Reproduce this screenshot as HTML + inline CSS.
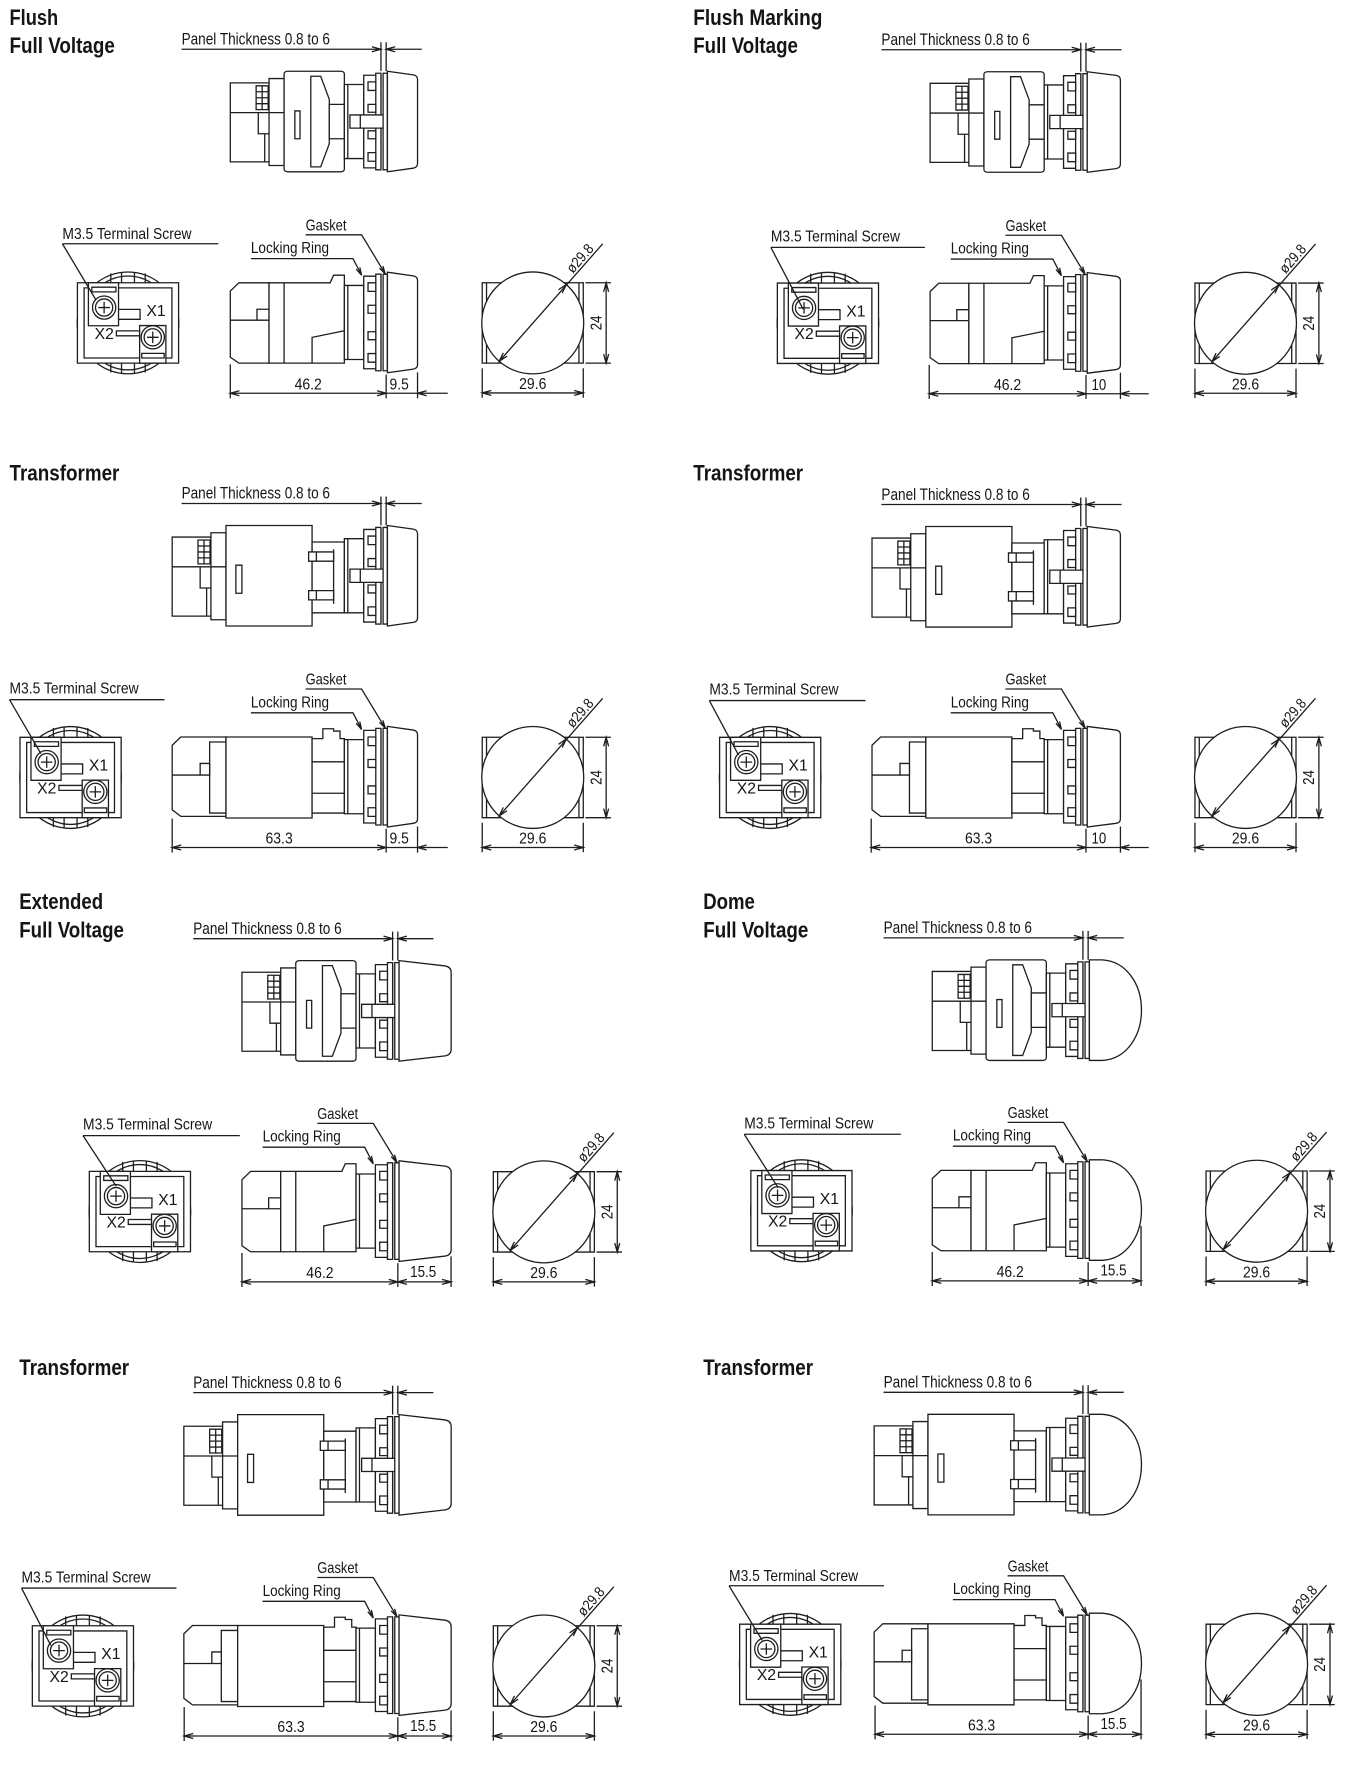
<!DOCTYPE html>
<html><head><meta charset="utf-8"><style>
html,body{margin:0;padding:0;background:#fff;}
svg{display:block}
path,rect,ellipse,circle,line{vector-effect:non-scaling-stroke;}
.n{fill:none}
text{stroke:none;fill:#151515;font-family:"Liberation Sans",sans-serif;}
.t{font-weight:bold;font-size:19.5px}
.p{font-size:15px}
.l{font-size:14px}
.d{font-size:13.5px}
.x{font-size:13.5px}
.r{font-size:13px}
</style></head><body>
<svg width="1348" height="1784" viewBox="0 0 1190 1575" preserveAspectRatio="none" xmlns="http://www.w3.org/2000/svg" fill="#fff" stroke="#1e1e1e" stroke-width="1.3">
<defs>
<g id="fvTop">
<path d="M-350,-117 H-260 V-130 H-225 V133 H-260 V122 H-350 Z"/>
<path class="n" d="M-350,-27 H-225 M-260,-117 V122 M-285,-27 V37 H-260 M-270,37 V122"/>
<rect x="-290" y="-108" width="28" height="72"/>
<path class="n" d="M-290,-90 H-262 M-290,-72 H-262 M-290,-54 H-262 M-276,-108 V-36"/>
<rect x="-225" y="-152" width="140" height="304" rx="8"/>
<path d="M-163,-137 H-140 L-120,-67 V67 L-140,137 H-163 Z"/>
<rect x="-120" y="-52" width="35" height="104"/>
<rect x="-200" y="-32" width="12" height="84"/>
</g>
<g id="trTop">
<path d="M-485,-117 H-395 V-130 H-360 V133 H-395 V122 H-485 Z"/>
<path class="n" d="M-485,-27 H-360 M-395,-117 V122 M-420,-27 V37 H-395 M-405,37 V122"/>
<rect x="-425" y="-108" width="28" height="72"/>
<path class="n" d="M-425,-90 H-397 M-425,-72 H-397 M-425,-54 H-397 M-411,-108 V-36"/>
<rect x="-360" y="-152" width="200" height="304"/>
<rect x="-337" y="-32" width="14" height="85"/>
<rect x="-160" y="-102" width="75" height="214"/>
<path class="n" d="M-110,-80 V85"/>
<rect x="-168" y="-72" width="58" height="28"/>
<rect x="-168" y="45" width="58" height="28"/>
<path class="n" d="M-150,-72 V-44 M-150,45 V73"/>
</g>
<g id="fvLow">
<path d="M-350,-95 L-330,-120 H-260 V123 H-330 L-350,105 Z"/>
<path class="n" d="M-350,-7 H-288"/>
<rect x="-288" y="-40" width="28" height="33"/>
<path d="M-260,-120 H-118 L-110,-143 H-85 V123 H-260 Z"/>
<path class="n" d="M-225,-120 V123 M-160,123 V45 L-85,25"/>
</g>
<g id="trLow">
<path d="M-485,-95 L-465,-120 H-360 V120 H-465 L-485,100 Z"/>
<rect x="-398" y="-105" width="38" height="215"/>
<path class="n" d="M-485,-5 H-420"/>
<rect x="-420" y="-40" width="22" height="35"/>
<rect x="-360" y="-120" width="200" height="245"/>
<path d="M-160,-115 H-135 V-145 H-110 V-138 H-95 V-115 H-85 V110 H-160 Z"/>
<path class="n" d="M-160,-45 H-85 M-160,50 H-85"/>
</g>
<g id="ring">
<rect x="-85" y="-112" width="45" height="224"/>
<path class="n" d="M-77,-112 V112"/>
<rect x="-40" y="-140" width="40" height="280"/>
<rect x="-12" y="-146" width="12" height="292"/>
<rect x="-30" y="-120" width="18" height="26"/>
<rect x="-30" y="-52" width="18" height="24"/>
<rect x="-30" y="28" width="18" height="24"/>
<rect x="-30" y="94" width="18" height="26"/>
</g>
<g id="shaft"><rect x="-72" y="-20" width="78" height="40"/><path class="n" d="M-48,-20 V20"/></g>
<g id="lensF"><rect x="5" y="-146" width="10" height="292"/><path d="M15,-152 L75,-141 Q85,-139 85,-127 V127 Q85,139 75,141 L15,152 Z"/></g>
<g id="lensM"><rect x="5" y="-146" width="10" height="292"/><path d="M15,-152 L82,-141 Q92,-139 92,-127 V127 Q92,139 82,141 L15,152 Z"/></g>
<g id="lensE"><rect x="5" y="-146" width="10" height="292"/><path d="M15,-152 L122,-136 Q136,-133 136,-116 V116 Q136,133 122,136 L15,152 Z"/></g>
<g id="lensD"><rect x="5" y="-146" width="10" height="292"/><path d="M15,-152 H45 C100,-148 136,-80 136,0 C136,80 100,148 45,152 H15 Z"/></g>
<g id="rear">
<ellipse rx="118" ry="154"/>
<ellipse class="n" rx="104" ry="142"/>
<path class="n" d="M-40,-150 V-122 M-15,-153 V-122 M15,-153 V-122 M40,-150 V-122 M-40,150 V122 M-15,153 V122 M15,153 V122 M40,150 V122"/>
<rect x="-117.5" y="-121.5" width="235" height="243"/>
<rect class="n" x="-102" y="-106" width="204" height="212"/>
<rect x="-92" y="-121.5" width="70" height="130"/>
<rect x="-84" y="-108" width="56" height="14"/>
<path class="n" d="M-22,-41 H28 V-11 H-22"/>
<rect x="27" y="8" width="61" height="113.5"/>
<rect x="32" y="92" width="52" height="14"/>
<path class="n" d="M27,24 H-27 V39 H27"/>
<ellipse cx="-55.5" cy="-46.5" rx="27" ry="35"/>
<ellipse class="n" cx="-55.5" cy="-46.5" rx="20" ry="26"/>
<path class="n" d="M-69,-46.5 H-42 M-55.5,-64 V-29"/>
<ellipse cx="57.5" cy="43.5" rx="27" ry="35"/>
<ellipse class="n" cx="57.5" cy="43.5" rx="20" ry="26"/>
<path class="n" d="M44,43.5 H71 M57.5,26 V61"/>
</g>
<g id="front">
<rect x="-44.6" y="-35.5" width="89.2" height="71"/>
<path class="n" d="M-40.8,-35.5 V35.5 M40.8,-35.5 V35.5"/>
<circle r="45"/>
<path class="n" d="M-29.6,33.9 L61.8,-69.9 M26,-26.4 L29.6,-33.9 L22.7,-29.3 M-22.7,29.3 L-29.6,33.9 L-26,26.4 M46.5,-35.5 H69 M46.5,35.5 H69 M64.8,-35.5 V35.5 M62.6,-27.5 L64.8,-35.5 L67,-27.5 M62.6,27.5 L64.8,35.5 L67,27.5 M-44.6,40 V66 M44.6,40 V66 M-44.6,61.8 H44.6 M-36.6,59.6 L-44.6,61.8 L-36.6,64 M36.6,59.6 L44.6,61.8 L36.6,64"/>
</g>
<path id="pt" class="n" d="M-176,-63.8 H0 M4.6,-63.8 H36 M0,-70 V-44.5 M4.6,-70 V-44.5 M-8,-66 L0,-63.8 L-8,-61.6 M12.6,-66 L4.6,-63.8 L12.6,-61.6"/>
<path id="ld" class="n" d="M-66.5,-77.4 H-17.1 L3.8,-42.9 M1.7,-49.8 L3.8,-42.9 L-1.3,-48 M-114.8,-56.4 H-24.7 L-17.1,-41.7 M-18.7,-48.7 L-17.1,-41.7 L-21.9,-47.1"/>
</defs>

<!-- ================= BLOCK A : Flush Full Voltage ================= -->
<text class="t" x="8.4" y="21.9" textLength="43" lengthAdjust="spacingAndGlyphs">Flush</text>
<text class="t" x="8.4" y="46.7" textLength="93" lengthAdjust="spacingAndGlyphs">Full Voltage</text>
<g transform="translate(336.3,107.3) scale(.38,.292)"><use href="#fvTop"/><use href="#ring"/><use href="#shaft"/><use href="#lensF"/></g>
<g transform="translate(336.3,107.3)"><use href="#pt"/><text class="p" x="-176" y="-68" textLength="131" lengthAdjust="spacingAndGlyphs">Panel Thickness 0.8 to 6</text></g>
<g transform="translate(336.3,284.7) scale(.38,.292)"><use href="#fvLow"/><use href="#ring"/><use href="#lensF"/></g>
<g transform="translate(336.3,284.7)"><use href="#ld"/>
<text class="l" x="-66.5" y="-81.2" textLength="36" lengthAdjust="spacingAndGlyphs">Gasket</text>
<text class="l" x="-114.8" y="-61.3" textLength="69" lengthAdjust="spacingAndGlyphs">Locking Ring</text>
<path class="n" d="M-133,37 V67 M4.6,46 V67 M32.3,44 V67 M-133,62.5 H59 M-125,60.3 L-133,62.5 L-125,64.7 M-3.4,60.3 L4.6,62.5 L-3.4,64.7 M40.3,60.3 L32.3,62.5 L40.3,64.7"/>
<text class="d" x="-76.2" y="59" textLength="24" lengthAdjust="spacingAndGlyphs">46.2</text><text class="d" x="7.6" y="59" textLength="17" lengthAdjust="spacingAndGlyphs">9.5</text></g>
<g transform="translate(113,285.1) scale(.38,.292)"><use href="#rear"/></g>
<g transform="translate(113,285.1)"><text class="x" x="16.2" y="-6" textLength="17" lengthAdjust="spacingAndGlyphs">X1</text><text class="x" x="-29.5" y="14" textLength="17" lengthAdjust="spacingAndGlyphs">X2</text></g>
<text class="l" x="55.1" y="210.8" textLength="114" lengthAdjust="spacingAndGlyphs">M3.5 Terminal Screw</text>
<path class="n" d="M55.1,215.2 H192.7 M55.1,215.2 L84.4,264.3"/>
<g transform="translate(470.3,285.1)"><use href="#front"/><text class="d" x="-12" y="58.5" textLength="24" lengthAdjust="spacingAndGlyphs">29.6</text><text class="d" transform="translate(60.5,0) rotate(-90)" x="-6.5" y="0" textLength="13" lengthAdjust="spacingAndGlyphs">24</text><text class="r" transform="translate(44.9,-54.1) rotate(-49)" x="-14.5" y="0" textLength="29" lengthAdjust="spacingAndGlyphs">ø29.8</text></g>

<!-- ================= BLOCK A' : Flush Marking ================= -->
<text class="t" x="612" y="21.9" textLength="114" lengthAdjust="spacingAndGlyphs">Flush Marking</text>
<text class="t" x="612" y="46.7" textLength="92.4" lengthAdjust="spacingAndGlyphs">Full Voltage</text>
<g transform="translate(954.1,107.7) scale(.38,.292)"><use href="#fvTop"/><use href="#ring"/><use href="#shaft"/><use href="#lensM"/></g>
<g transform="translate(954.1,107.7)"><use href="#pt"/><text class="p" x="-176" y="-68" textLength="131" lengthAdjust="spacingAndGlyphs">Panel Thickness 0.8 to 6</text></g>
<g transform="translate(954.1,285.1) scale(.38,.292)"><use href="#fvLow"/><use href="#ring"/><use href="#lensM"/></g>
<g transform="translate(954.1,285.1)"><use href="#ld"/>
<text class="l" x="-66.5" y="-81.2" textLength="36" lengthAdjust="spacingAndGlyphs">Gasket</text>
<text class="l" x="-114.8" y="-61.3" textLength="69" lengthAdjust="spacingAndGlyphs">Locking Ring</text>
<path class="n" d="M-133.8,37 V67 M4.6,46 V67 M35,44 V67 M-133.8,62.5 H60 M-125.8,60.3 L-133.8,62.5 L-125.8,64.7 M-3.4,60.3 L4.6,62.5 L-3.4,64.7 M43,60.3 L35,62.5 L43,64.7"/>
<text class="d" x="-76.6" y="59" textLength="24" lengthAdjust="spacingAndGlyphs">46.2</text><text class="d" x="9.5" y="59" textLength="13" lengthAdjust="spacingAndGlyphs">10</text></g>
<g transform="translate(730.9,285.4) scale(.38,.292)"><use href="#rear"/></g>
<g transform="translate(730.9,285.4)"><text class="x" x="16.2" y="-6" textLength="17" lengthAdjust="spacingAndGlyphs">X1</text><text class="x" x="-29.5" y="14" textLength="17" lengthAdjust="spacingAndGlyphs">X2</text></g>
<text class="l" x="680.5" y="213.2" textLength="114" lengthAdjust="spacingAndGlyphs">M3.5 Terminal Screw</text>
<path class="n" d="M680.5,218.4 H816.5 M680.5,218.4 L709,273"/>
<g transform="translate(1099.5,285.4)"><use href="#front"/><text class="d" x="-12" y="58.5" textLength="24" lengthAdjust="spacingAndGlyphs">29.6</text><text class="d" transform="translate(60.5,0) rotate(-90)" x="-6.5" y="0" textLength="13" lengthAdjust="spacingAndGlyphs">24</text><text class="r" transform="translate(44.9,-54.1) rotate(-49)" x="-14.5" y="0" textLength="29" lengthAdjust="spacingAndGlyphs">ø29.8</text></g>

<!-- ================= BLOCK B : Transformer (left) ================= -->
<text class="t" x="8.4" y="424.4" textLength="97" lengthAdjust="spacingAndGlyphs">Transformer</text>
<g transform="translate(336.3,508.3) scale(.38,.292)"><use href="#trTop"/><use href="#ring"/><use href="#shaft"/><use href="#lensF"/></g>
<g transform="translate(336.3,508.3)"><use href="#pt"/><text class="p" x="-176" y="-68" textLength="131" lengthAdjust="spacingAndGlyphs">Panel Thickness 0.8 to 6</text></g>
<g transform="translate(336.3,685.7) scale(.38,.292)"><use href="#trLow"/><use href="#ring"/><use href="#lensF"/></g>
<g transform="translate(336.3,685.7)"><use href="#ld"/>
<text class="l" x="-66.5" y="-81.2" textLength="36" lengthAdjust="spacingAndGlyphs">Gasket</text>
<text class="l" x="-114.8" y="-61.3" textLength="69" lengthAdjust="spacingAndGlyphs">Locking Ring</text>
<path class="n" d="M-184.3,37 V67 M4.6,46 V67 M32.3,44 V67 M-184.3,62.5 H59 M-176.3,60.3 L-184.3,62.5 L-176.3,64.7 M-3.4,60.3 L4.6,62.5 L-3.4,64.7 M40.3,60.3 L32.3,62.5 L40.3,64.7"/>
<text class="d" x="-101.9" y="59" textLength="24" lengthAdjust="spacingAndGlyphs">63.3</text><text class="d" x="7.6" y="59" textLength="17" lengthAdjust="spacingAndGlyphs">9.5</text></g>
<g transform="translate(62.3,686.4) scale(.38,.292)"><use href="#rear"/></g>
<g transform="translate(62.3,686.4)"><text class="x" x="16.2" y="-6" textLength="17" lengthAdjust="spacingAndGlyphs">X1</text><text class="x" x="-29.5" y="14" textLength="17" lengthAdjust="spacingAndGlyphs">X2</text></g>
<text class="l" x="8.4" y="612.1" textLength="114" lengthAdjust="spacingAndGlyphs">M3.5 Terminal Screw</text>
<path class="n" d="M8.4,617.7 H145.2 M8.4,617.7 L36.1,665.3"/>
<g transform="translate(470.3,686.4)"><use href="#front"/><text class="d" x="-12" y="58.5" textLength="24" lengthAdjust="spacingAndGlyphs">29.6</text><text class="d" transform="translate(60.5,0) rotate(-90)" x="-6.5" y="0" textLength="13" lengthAdjust="spacingAndGlyphs">24</text><text class="r" transform="translate(44.9,-54.1) rotate(-49)" x="-14.5" y="0" textLength="29" lengthAdjust="spacingAndGlyphs">ø29.8</text></g>

<!-- ================= BLOCK B' : Transformer (right) ================= -->
<text class="t" x="612" y="424.4" textLength="97" lengthAdjust="spacingAndGlyphs">Transformer</text>
<g transform="translate(954.1,509.2) scale(.38,.292)"><use href="#trTop"/><use href="#ring"/><use href="#shaft"/><use href="#lensM"/></g>
<g transform="translate(954.1,509.2)"><use href="#pt"/><text class="p" x="-176" y="-68" textLength="131" lengthAdjust="spacingAndGlyphs">Panel Thickness 0.8 to 6</text></g>
<g transform="translate(954.1,685.7) scale(.38,.292)"><use href="#trLow"/><use href="#ring"/><use href="#lensM"/></g>
<g transform="translate(954.1,685.7)"><use href="#ld"/>
<text class="l" x="-66.5" y="-81.2" textLength="36" lengthAdjust="spacingAndGlyphs">Gasket</text>
<text class="l" x="-114.8" y="-61.3" textLength="69" lengthAdjust="spacingAndGlyphs">Locking Ring</text>
<path class="n" d="M-185,37 V67 M4.6,46 V67 M35,44 V67 M-185,62.5 H60 M-177,60.3 L-185,62.5 L-177,64.7 M-3.4,60.3 L4.6,62.5 L-3.4,64.7 M43,60.3 L35,62.5 L43,64.7"/>
<text class="d" x="-102.2" y="59" textLength="24" lengthAdjust="spacingAndGlyphs">63.3</text><text class="d" x="9.5" y="59" textLength="13" lengthAdjust="spacingAndGlyphs">10</text></g>
<g transform="translate(679.9,686.4) scale(.38,.292)"><use href="#rear"/></g>
<g transform="translate(679.9,686.4)"><text class="x" x="16.2" y="-6" textLength="17" lengthAdjust="spacingAndGlyphs">X1</text><text class="x" x="-29.5" y="14" textLength="17" lengthAdjust="spacingAndGlyphs">X2</text></g>
<text class="l" x="626.2" y="613.3" textLength="114" lengthAdjust="spacingAndGlyphs">M3.5 Terminal Screw</text>
<path class="n" d="M626.2,618.5 H764.1 M626.2,618.5 L652,666.7"/>
<g transform="translate(1099.5,686.4)"><use href="#front"/><text class="d" x="-12" y="58.5" textLength="24" lengthAdjust="spacingAndGlyphs">29.6</text><text class="d" transform="translate(60.5,0) rotate(-90)" x="-6.5" y="0" textLength="13" lengthAdjust="spacingAndGlyphs">24</text><text class="r" transform="translate(44.9,-54.1) rotate(-49)" x="-14.5" y="0" textLength="29" lengthAdjust="spacingAndGlyphs">ø29.8</text></g>

<!-- ================= BLOCK C : Extended Full Voltage ================= -->
<text class="t" x="17" y="802.6" textLength="74" lengthAdjust="spacingAndGlyphs">Extended</text>
<text class="t" x="17" y="827.7" textLength="92.4" lengthAdjust="spacingAndGlyphs">Full Voltage</text>
<g transform="translate(346.6,892.5) scale(.38,.292)"><use href="#fvTop"/><use href="#ring"/><use href="#shaft"/><use href="#lensE"/></g>
<g transform="translate(346.6,892.5)"><use href="#pt"/><text class="p" x="-176" y="-68" textLength="131" lengthAdjust="spacingAndGlyphs">Panel Thickness 0.8 to 6</text></g>
<g transform="translate(346.6,1069.2) scale(.38,.292)"><use href="#fvLow"/><use href="#ring"/><use href="#lensE"/></g>
<g transform="translate(346.6,1069.2)"><use href="#ld"/>
<text class="l" x="-66.5" y="-81.2" textLength="36" lengthAdjust="spacingAndGlyphs">Gasket</text>
<text class="l" x="-114.8" y="-61.3" textLength="69" lengthAdjust="spacingAndGlyphs">Locking Ring</text>
<path class="n" d="M-133,37 V67 M4.6,46 V67 M51.6,40 V67 M-133,62.5 H51.6 M-125,60.3 L-133,62.5 L-125,64.7 M-3.4,60.3 L4.6,62.5 L-3.4,64.7 M12.6,60.3 L4.6,62.5 L12.6,64.7 M43.6,60.3 L51.6,62.5 L43.6,64.7"/>
<text class="d" x="-76.2" y="59" textLength="24" lengthAdjust="spacingAndGlyphs">46.2</text><text class="d" x="15.5" y="58" textLength="23" lengthAdjust="spacingAndGlyphs">15.5</text></g>
<g transform="translate(123.5,1069.6) scale(.38,.292)"><use href="#rear"/></g>
<g transform="translate(123.5,1069.6)"><text class="x" x="16.2" y="-6" textLength="17" lengthAdjust="spacingAndGlyphs">X1</text><text class="x" x="-29.5" y="14" textLength="17" lengthAdjust="spacingAndGlyphs">X2</text></g>
<text class="l" x="73.3" y="997.1" textLength="114" lengthAdjust="spacingAndGlyphs">M3.5 Terminal Screw</text>
<path class="n" d="M73.3,1002.6 H211.7 M73.3,1002.6 L102.6,1047.3"/>
<g transform="translate(480.1,1069.9)"><use href="#front"/><text class="d" x="-12" y="58.5" textLength="24" lengthAdjust="spacingAndGlyphs">29.6</text><text class="d" transform="translate(60.5,0) rotate(-90)" x="-6.5" y="0" textLength="13" lengthAdjust="spacingAndGlyphs">24</text><text class="r" transform="translate(44.9,-54.1) rotate(-49)" x="-14.5" y="0" textLength="29" lengthAdjust="spacingAndGlyphs">ø29.8</text></g>

<!-- ================= BLOCK C' : Dome Full Voltage ================= -->
<text class="t" x="620.8" y="802.6" textLength="45.6" lengthAdjust="spacingAndGlyphs">Dome</text>
<text class="t" x="620.8" y="827.7" textLength="92.8" lengthAdjust="spacingAndGlyphs">Full Voltage</text>
<g transform="translate(956,891.8) scale(.38,.292)"><use href="#fvTop"/><use href="#ring"/><use href="#shaft"/><use href="#lensD"/></g>
<g transform="translate(956,891.8)"><use href="#pt"/><text class="p" x="-176" y="-68" textLength="131" lengthAdjust="spacingAndGlyphs">Panel Thickness 0.8 to 6</text></g>
<g transform="translate(956,1068.3) scale(.38,.292)"><use href="#fvLow"/><use href="#ring"/><use href="#lensD"/></g>
<g transform="translate(956,1068.3)"><use href="#ld"/>
<text class="l" x="-66.5" y="-81.2" textLength="36" lengthAdjust="spacingAndGlyphs">Gasket</text>
<text class="l" x="-114.8" y="-61.3" textLength="69" lengthAdjust="spacingAndGlyphs">Locking Ring</text>
<path class="n" d="M-133,37 V67 M4.6,46 V67 M51.3,14 V67 M-133,62.5 H51.3 M-125,60.3 L-133,62.5 L-125,64.7 M-3.4,60.3 L4.6,62.5 L-3.4,64.7 M12.6,60.3 L4.6,62.5 L12.6,64.7 M43.3,60.3 L51.3,62.5 L43.3,64.7"/>
<text class="d" x="-76.2" y="59" textLength="24" lengthAdjust="spacingAndGlyphs">46.2</text><text class="d" x="15.5" y="58" textLength="23" lengthAdjust="spacingAndGlyphs">15.5</text></g>
<g transform="translate(707.5,1068.9) scale(.38,.292)"><use href="#rear"/></g>
<g transform="translate(707.5,1068.9)"><text class="x" x="16.2" y="-6" textLength="17" lengthAdjust="spacingAndGlyphs">X1</text><text class="x" x="-29.5" y="14" textLength="17" lengthAdjust="spacingAndGlyphs">X2</text></g>
<text class="l" x="657" y="996.2" textLength="114" lengthAdjust="spacingAndGlyphs">M3.5 Terminal Screw</text>
<path class="n" d="M657,1001.4 H795.3 M657,1001.4 L687,1048.7"/>
<g transform="translate(1109.3,1069.3)"><use href="#front"/><text class="d" x="-12" y="58.5" textLength="24" lengthAdjust="spacingAndGlyphs">29.6</text><text class="d" transform="translate(60.5,0) rotate(-90)" x="-6.5" y="0" textLength="13" lengthAdjust="spacingAndGlyphs">24</text><text class="r" transform="translate(44.9,-54.1) rotate(-49)" x="-14.5" y="0" textLength="29" lengthAdjust="spacingAndGlyphs">ø29.8</text></g>

<!-- ================= BLOCK D : Transformer (left bottom) ================= -->
<text class="t" x="17" y="1213.7" textLength="97" lengthAdjust="spacingAndGlyphs">Transformer</text>
<g transform="translate(346.6,1293.3) scale(.38,.292)"><use href="#trTop"/><use href="#ring"/><use href="#shaft"/><use href="#lensE"/></g>
<g transform="translate(346.6,1293.3)"><use href="#pt"/><text class="p" x="-176" y="-68" textLength="131" lengthAdjust="spacingAndGlyphs">Panel Thickness 0.8 to 6</text></g>
<g transform="translate(346.6,1470.1) scale(.38,.292)"><use href="#trLow"/><use href="#ring"/><use href="#lensE"/></g>
<g transform="translate(346.6,1470.1)"><use href="#ld"/>
<text class="l" x="-66.5" y="-81.2" textLength="36" lengthAdjust="spacingAndGlyphs">Gasket</text>
<text class="l" x="-114.8" y="-61.3" textLength="69" lengthAdjust="spacingAndGlyphs">Locking Ring</text>
<path class="n" d="M-184,37 V67 M4.6,46 V67 M51.6,40 V67 M-184,62.5 H51.6 M-176,60.3 L-184,62.5 L-176,64.7 M-3.4,60.3 L4.6,62.5 L-3.4,64.7 M12.6,60.3 L4.6,62.5 L12.6,64.7 M43.6,60.3 L51.6,62.5 L43.6,64.7"/>
<text class="d" x="-101.7" y="59" textLength="24" lengthAdjust="spacingAndGlyphs">63.3</text><text class="d" x="15.5" y="58" textLength="23" lengthAdjust="spacingAndGlyphs">15.5</text></g>
<g transform="translate(73.2,1470.8) scale(.38,.292)"><use href="#rear"/></g>
<g transform="translate(73.2,1470.8)"><text class="x" x="16.2" y="-6" textLength="17" lengthAdjust="spacingAndGlyphs">X1</text><text class="x" x="-29.5" y="14" textLength="17" lengthAdjust="spacingAndGlyphs">X2</text></g>
<text class="l" x="19" y="1397" textLength="114" lengthAdjust="spacingAndGlyphs">M3.5 Terminal Screw</text>
<path class="n" d="M19,1402 H155.8 M19,1402 L44.8,1452.6"/>
<g transform="translate(480.1,1470.8)"><use href="#front"/><text class="d" x="-12" y="58.5" textLength="24" lengthAdjust="spacingAndGlyphs">29.6</text><text class="d" transform="translate(60.5,0) rotate(-90)" x="-6.5" y="0" textLength="13" lengthAdjust="spacingAndGlyphs">24</text><text class="r" transform="translate(44.9,-54.1) rotate(-49)" x="-14.5" y="0" textLength="29" lengthAdjust="spacingAndGlyphs">ø29.8</text></g>

<!-- ================= BLOCK D' : Transformer (right bottom) ================= -->
<text class="t" x="620.8" y="1213.7" textLength="97" lengthAdjust="spacingAndGlyphs">Transformer</text>
<g transform="translate(956,1293) scale(.38,.292)"><use href="#trTop"/><use href="#ring"/><use href="#shaft"/><use href="#lensD"/></g>
<g transform="translate(956,1293)"><use href="#pt"/><text class="p" x="-176" y="-68" textLength="131" lengthAdjust="spacingAndGlyphs">Panel Thickness 0.8 to 6</text></g>
<g transform="translate(956,1468.6) scale(.38,.292)"><use href="#trLow"/><use href="#ring"/><use href="#lensD"/></g>
<g transform="translate(956,1468.6)"><use href="#ld"/>
<text class="l" x="-66.5" y="-81.2" textLength="36" lengthAdjust="spacingAndGlyphs">Gasket</text>
<text class="l" x="-114.8" y="-61.3" textLength="69" lengthAdjust="spacingAndGlyphs">Locking Ring</text>
<path class="n" d="M-183.5,37 V67 M4.6,46 V67 M51.3,14 V67 M-183.5,62.5 H51.3 M-175.5,60.3 L-183.5,62.5 L-175.5,64.7 M-3.4,60.3 L4.6,62.5 L-3.4,64.7 M12.6,60.3 L4.6,62.5 L12.6,64.7 M43.3,60.3 L51.3,62.5 L43.3,64.7"/>
<text class="d" x="-101.5" y="59" textLength="24" lengthAdjust="spacingAndGlyphs">63.3</text><text class="d" x="15.5" y="58" textLength="23" lengthAdjust="spacingAndGlyphs">15.5</text></g>
<g transform="translate(697.6,1469.4) scale(.38,.292)"><use href="#rear"/></g>
<g transform="translate(697.6,1469.4)"><text class="x" x="16.2" y="-6" textLength="17" lengthAdjust="spacingAndGlyphs">X1</text><text class="x" x="-29.5" y="14" textLength="17" lengthAdjust="spacingAndGlyphs">X2</text></g>
<text class="l" x="643.6" y="1395.6" textLength="114" lengthAdjust="spacingAndGlyphs">M3.5 Terminal Screw</text>
<path class="n" d="M643.6,1400 H780.4 M643.6,1400 L672.9,1448.2"/>
<g transform="translate(1109.3,1469.4)"><use href="#front"/><text class="d" x="-12" y="58.5" textLength="24" lengthAdjust="spacingAndGlyphs">29.6</text><text class="d" transform="translate(60.5,0) rotate(-90)" x="-6.5" y="0" textLength="13" lengthAdjust="spacingAndGlyphs">24</text><text class="r" transform="translate(44.9,-54.1) rotate(-49)" x="-14.5" y="0" textLength="29" lengthAdjust="spacingAndGlyphs">ø29.8</text></g>
</svg>
</body></html>
